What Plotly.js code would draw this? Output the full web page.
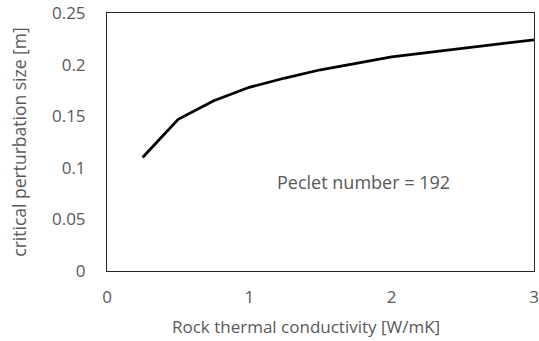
<!DOCTYPE html>
<html>
<head>
<meta charset="utf-8">
<script src="https://cdn.plot.ly/plotly-3.0.1.min.js"></script>
<style>html,body{margin:0;padding:0;background:#fff;}#chart{width:539px;height:341px;}</style>
</head>
<body>
<div id="chart"></div>
<script>
// Rock thermal conductivity [W/mK]
const conductivity = [0.25, 0.5, 0.75, 1, 1.25, 1.5, 2, 2.5, 3];
// Critical perturbation size [m]
const perturbationSize = [0.11, 0.147, 0.165, 0.178, 0.187, 0.195, 0.2075, 0.2155, 0.224];
const xTicks = [0, 1, 2, 3];
const yTicks = [0, 0.05, 0.1, 0.15, 0.2, 0.25];
const yTickText = ['0', '0.05', '0.1', '0.15', '0.2', '0.25'];

const textColor = '#595959';
const fontFamily = 'Open Sans, Liberation Sans, sans-serif';

const trace = {
  x: conductivity,
  y: perturbationSize,
  type: 'scatter',
  mode: 'lines',
  line: {color: '#000000', width: 2.8},
  hoverinfo: 'skip'
};

const layout = {
  width: 539,
  height: 341,
  margin: {l: 106.5, r: 4.5, t: 13, b: 69.5},
  paper_bgcolor: '#ffffff',
  plot_bgcolor: '#ffffff',
  showlegend: false,
  font: {family: fontFamily, color: textColor, size: 17},
  xaxis: {
    range: [0, 3],
    tickvals: xTicks,
    ticktext: xTicks.map(String),
    showgrid: false,
    zeroline: false,
    showline: true,
    linecolor: '#262626',
    linewidth: 1,
    mirror: true,
    ticks: '',
    ticklabelstandoff: 11,
    tickfont: {size: 17, color: textColor}
  },
  yaxis: {
    range: [0, 0.25],
    tickvals: yTicks,
    ticktext: yTickText,
    showgrid: false,
    zeroline: false,
    showline: true,
    linecolor: '#262626',
    linewidth: 1,
    mirror: true,
    ticks: '',
    ticklabelstandoff: 17,
    tickfont: {size: 17, color: textColor},
    title: {text: 'critical perturbation size [m]', font: {size: 17.5, color: textColor}, standoff: 20}
  },
  annotations: [
    {
      // x-axis title, set slightly left of the plot centre
      x: 0.467, y: -0.215, xref: 'paper', yref: 'paper',
      xanchor: 'center', yanchor: 'middle',
      text: 'Rock thermal conductivity [W/mK]',
      showarrow: false,
      font: {size: 17, color: textColor, family: fontFamily}
    },
    {
      x: 1.805, y: 0.0866, xref: 'x', yref: 'y',
      text: 'Peclet number = 192',
      showarrow: false,
      font: {size: 18, color: textColor, family: fontFamily}
    }
  ]
};

Plotly.newPlot('chart', [trace], layout, {staticPlot: true, displayModeBar: false});
</script>
</body>
</html>
